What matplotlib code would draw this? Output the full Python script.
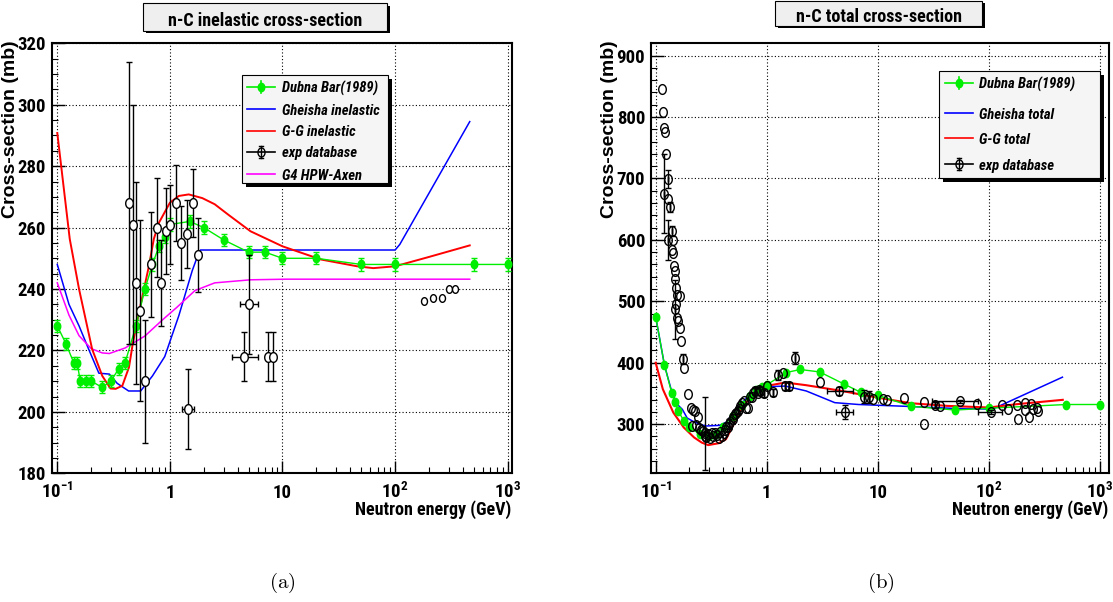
import numpy as np
import matplotlib
matplotlib.use('Agg')
import matplotlib.pyplot as plt
from matplotlib import font_manager as fm
from matplotlib.path import Path
from matplotlib.patches import Rectangle
from matplotlib.lines import Line2D
from matplotlib.transforms import Affine2D
from matplotlib.ticker import MultipleLocator, LogLocator, NullFormatter

# ---------------- data ----------------
XMAJ = [0.1, 1, 10, 100, 1000]
XLABELS = ['$10^{-1}$', '1', '10', '$10^{2}$', '$10^{3}$']

E_DUBNA = [0.1, 0.12, 0.14, 0.15, 0.16, 0.18, 0.2, 0.25, 0.3, 0.35, 0.4, 0.5, 0.6, 0.7,
           0.8, 0.9, 1.0, 1.5, 2.0, 3.0, 5.0, 7.0, 10.0, 20.0, 50.0, 100.0, 500.0, 1000.0]
SIG_IN_DUBNA = [228, 222, 216, 216, 210, 210, 210, 208, 210, 214, 216, 228, 240, 248,
                254, 257, 261, 262, 260, 256, 252, 252, 250, 250, 248, 248, 248, 248]
ERR_IN_DUBNA = [2, 2, 2, 2, 2, 2, 2, 2, 2, 2, 2, 2, 2, 2,
                2, 2, 2, 2, 2, 2, 2, 2, 2, 2, 2, 2, 2, 2]
SIG_TOT_DUBNA = [475, 396, 350, 336, 321, 305, 295, 284, 280, 284, 296, 314, 332, 346,
                 355, 361, 364, 384, 389, 385, 365, 352, 347, 329, 323, 326, 332, 332]
ERR_TOT_DUBNA = [3, 3, 3, 3, 3, 3, 3, 3, 3, 3, 3, 3, 3, 3,
                 3, 3, 3, 3, 3, 3, 3, 3, 3, 3, 3, 3, 3, 3]

# inelastic models
E_GH_IN = [0.1, 0.127, 0.156, 0.19, 0.234, 0.29, 0.34, 0.43, 0.55, 0.7, 0.9, 1.2, 1.58,
           1.78, 1.87, 100, 110, 460]
SIG_GH_IN = [248, 235, 228, 220.4, 212.6, 212.3, 209.3, 206.8, 206.8, 211.7, 218, 231.3,
             246, 251.2, 252.7, 252.7, 254.5, 294.5]
E_GG_IN = [0.1, 0.129, 0.156, 0.204, 0.251, 0.297, 0.33, 0.378, 0.433, 0.47, 0.548, 0.652,
           0.72, 0.8, 1.0, 1.2, 1.47, 1.94, 2.5, 3.3, 5.2, 10, 22, 46, 64, 100, 198, 460]
SIG_GG_IN = [290.8, 256.3, 240, 220.4, 211.7, 207.6, 207.5, 208.5, 214.5, 222.6, 234.6,
             247.6, 256.3, 261.6, 268.1, 270.3, 270.8, 269.6, 267.6, 264.2, 258.8, 253.9,
             249.6, 247.4, 246.8, 247.4, 250.4, 254.2]
E_HPW_IN = [0.1, 0.127, 0.156, 0.2, 0.25, 0.29, 0.4, 0.6, 0.85, 1.15, 1.67, 2.5, 5.2, 10.7, 460]
SIG_HPW_IN = [242, 231.5, 224.8, 220.6, 219.2, 219, 220.8, 224.7, 229.8, 234, 239.5, 242,
              243, 243.2, 243.2]

# inelastic experimental database
EXP_IN_E = [0.433, 0.47, 0.502, 0.542, 0.60, 0.68, 0.762, 0.838, 0.928, 1.0, 1.13, 1.26,
            1.42, 1.59, 1.78, 1.45, 4.55, 5.05, 7.36, 8.3]
EXP_IN = [268, 261, 242, 233, 210, 248, 260, 242, 259, 261, 268, 255, 258, 268, 251, 201,
          218, 235, 218, 218]
EXP_IN_ERR = [46, 39, 33, 29.5, 20, 17, 16, 14, 14, 13, 12.5, 12, 11, 11, 12, 13, 8, 16, 8, 8]
EXP_IN_XLO = [0, 0, 0, 0, 0, 0, 0, 0, 0, 0, 0, 0, 0, 0, 0, 0.18, 0.99, 0.85, 0, 0]
EXP_IN_XHI = [0, 0, 0, 0, 0, 0, 0, 0, 0, 0, 0, 0, 0, 0, 0, 0.19, 1.45, 0.95, 0, 0]
EXP_IN_HE_E = [180, 218, 260, 302, 343]
EXP_IN_HE = [236, 237, 237, 240, 240]

# total models
E_GH_TOT = [0.1, 0.12, 0.14, 0.155, 0.174, 0.192, 0.215, 0.257, 0.284, 0.375, 0.43, 0.53,
            0.71, 1.0, 1.47, 2.27, 4.1, 6.7, 20, 50, 108, 460]
SIG_GH_TOT = [475, 396, 352, 333, 324, 310, 305, 299, 297, 298, 303, 324, 349, 361, 362,
              354, 335, 332, 328.7, 325.5, 324.5, 376.5]
E_GG_TOT = [0.1, 0.116, 0.144, 0.179, 0.222, 0.26, 0.297, 0.37, 0.43, 0.495, 0.61, 0.82,
            1.0, 1.47, 2.27, 4.7, 9.8, 20, 41.7, 100, 178, 463]
SIG_GG_TOT = [400, 357, 319, 294.6, 278.3, 270, 265.9, 269, 275.6, 297.3, 329.8, 354,
              362.3, 367.8, 363.4, 354.2, 343.4, 334, 329.8, 327.1, 332.5, 339.6]

# total experimental database (points drawn without bars)
EXP_TOT_E = [0.113, 0.116, 0.119, 0.121, 0.124, 0.130, 0.143, 0.140, 0.142, 0.147, 0.149,
             0.149, 0.151, 0.155, 0.166, 0.152, 0.157, 0.160, 0.164, 0.169, 0.179, 0.196,
             0.210, 0.217, 0.225, 0.239, 0.214, 0.23, 0.248, 0.255, 0.266, 0.276, 0.285,
             0.297, 0.31, 0.32, 0.33, 0.344, 0.36, 0.37, 0.38, 0.392, 0.41, 0.42, 0.433,
             0.45, 0.47, 0.495, 0.5, 0.52, 0.53, 0.56, 0.58, 0.60, 0.62, 0.65, 0.68, 0.70,
             0.73, 0.75, 0.83, 0.85, 1.01, 1.40, 3.04, 9.1, 11.2, 12.1, 17.2, 25.8, 25.8,
             36.4, 79, 130, 150, 180, 184, 213, 210, 228, 242, 251, 273, 277]
EXP_TOT = [845, 808, 782, 775, 740, 666, 600, 584, 578, 557, 550, 536, 522, 511, 509, 495,
           473, 468, 456, 436, 392, 349, 327, 323, 322, 311, 297, 298, 293, 290, 289, 281,
           279, 284, 277, 285, 281, 286, 283, 277, 287, 281, 285, 290, 295, 296, 304, 308,
           312, 316, 318, 325, 330, 335, 338, 327, 327, 344, 345, 350, 351, 356, 362, 384,
           369, 341, 341, 339, 342, 336, 300, 330, 333, 331, 325, 332, 309, 334, 323, 311,
           333, 324, 327, 322]
# total experimental database (points with error bars)
EXP_TOT_EB_E = [0.128, 0.119, 0.134, 0.139, 0.129, 0.149, 0.175, 0.276, 0.46, 0.55, 0.78,
                0.87, 0.94, 1.14, 1.27, 1.45, 1.60, 1.78, 4.5, 5.05, 7.5, 8.3, 32.8, 54.5, 104]
EXP_TOT_EB = [699, 675, 654, 615, 600, 487, 406, 285, 300, 322, 354, 354, 351, 352, 380,
              362, 362, 408, 354, 320, 345, 344, 331, 337, 320]
EXP_TOT_EB_ERR = [15, 64, 8, 8, 32, 48, 8, 60, 8, 6, 6, 6, 6, 6, 8, 6, 6, 10, 6, 12, 10,
                  10, 5, 3, 3]
EXP_TOT_EB_XLO = [0, 0, 0, 0, 0, 0, 0, 0, 0, 0, 0, 0, 0, 0, 0, 0, 0, 0, 1.0, 0.85, 0, 0,
                  0, 23.8, 24]
EXP_TOT_EB_XHI = [0, 0, 0, 0, 0, 0, 0, 0, 0, 0, 0, 0, 0, 0, 0, 0, 0, 0, 1.5, 0.95, 0, 0,
                  0, 25.7, 26]

# ---------------- fonts ----------------
_avail = {f.name for f in fm.fontManager.ttflist}
NARROW_FAM = next((n for n in ['Liberation Sans Narrow', 'Nimbus Sans Narrow', 'Arial Narrow',
                               'Roboto Condensed', 'Archivo Narrow', 'Asap Condensed',
                               'Barlow Semi Condensed', 'Liberation Sans'] if n in _avail),
                  'DejaVu Sans')
WIDE_FAM = next((n for n in ['Liberation Sans', 'Arimo', 'DejaVu Sans'] if n in _avail),
                'DejaVu Sans')

plt.rcParams['font.family'] = [NARROW_FAM, 'DejaVu Sans']
plt.rcParams['font.weight'] = 'bold'
plt.rcParams['axes.labelweight'] = 'bold'
plt.rcParams['mathtext.fontset'] = 'custom'
plt.rcParams['mathtext.rm'] = NARROW_FAM + ':bold'
plt.rcParams['mathtext.bf'] = NARROW_FAM + ':bold'
plt.rcParams['mathtext.it'] = NARROW_FAM + ':bold:italic'
plt.rcParams['mathtext.sf'] = NARROW_FAM + ':bold'
plt.rcParams['mathtext.default'] = 'rm'

GREEN, BLUE, RED, MAGENTA = '#00ee00', '#0000ff', '#ff0000', '#ff00ff'

W, H = 1113, 602
fig = plt.figure(figsize=(W / 100, H / 100), dpi=100)
PX = Affine2D().scale(1.0 / W, -1.0 / H).translate(0, 1) + fig.transFigure


def ell_marker(ratio=0.78, n=48):
    t = np.linspace(0, 2 * np.pi, n)
    v = np.column_stack([ratio * np.cos(t), np.sin(t)])
    codes = [Path.MOVETO] + [Path.LINETO] * (n - 2) + [Path.CLOSEPOLY]
    return Path(v, codes)


ELL = ell_marker()


def setup(ax, xlim, ylim, ymajor, yminor, ylab_x):
    ax.set_xscale('log')
    ax.set_xlim(*xlim)
    ax.set_ylim(*ylim)
    ax.set_xticks(XMAJ, labels=XLABELS)
    ax.xaxis.set_minor_locator(LogLocator(base=10, subs=np.arange(2, 10), numticks=30))
    ax.xaxis.set_minor_formatter(NullFormatter())
    ax.yaxis.set_major_locator(MultipleLocator(ymajor))
    ax.yaxis.set_minor_locator(MultipleLocator(yminor))
    ax.tick_params(which='both', direction='in', top=False, right=False, color='k')
    ax.tick_params(which='major', length=9, width=1.0, labelsize=13.5)
    ax.tick_params(axis='y', which='major', pad=4)
    ax.tick_params(axis='x', which='major', pad=18)
    ax.tick_params(which='minor', length=4.5, width=0.8)
    for lbl in ax.get_xticklabels():
        lbl.set_verticalalignment('baseline')
    for s in ax.spines.values():
        s.set_linewidth(1.5)
    ax.grid(True, which='major', color='k', linestyle=(0, (1, 2)), linewidth=0.8)
    ax.set_axisbelow(True)
    ax.set_xlabel('Neutron energy (GeV)', fontsize=13, fontweight='bold')
    ax.xaxis.set_label_coords(1.0, -(515 - 473.3) / 430)
    ax.xaxis.label.set(ha='right', va='baseline')
    ax.set_ylabel('Cross-section (mb)', fontsize=14, fontfamily=[WIDE_FAM, 'DejaVu Sans'],
                  fontweight='bold')
    ax.yaxis.set_label_coords(ylab_x, 1.007)
    ax.yaxis.label.set(ha='right', va='center', rotation_mode='anchor')


def title_box(x0, y0, x1, y1, text, tx, ty, sh=2.5):
    fig.add_artist(Rectangle((x0 + sh, y0 + sh), x1 - x0, y1 - y0, transform=PX,
                             fc='k', ec='k', lw=0, zorder=20))
    fig.add_artist(Rectangle((x0, y0), x1 - x0, y1 - y0, transform=PX,
                             fc='#efefef', ec='k', lw=0.8, zorder=21))
    fig.text(tx, ty, text, transform=PX, ha='center', va='baseline', fontsize=13,
             fontweight='bold', zorder=22)


def legend_box(box, rows, hx0, hx1, tx, entries, sh=4):
    x0, y0, x1, y1 = box
    fig.add_artist(Rectangle((x0 + sh, y0 + sh), x1 - x0, y1 - y0, transform=PX,
                             fc='k', ec='k', lw=0, zorder=20))
    fig.add_artist(Rectangle((x0, y0), x1 - x0, y1 - y0, transform=PX,
                             fc='#f5f5f5', ec='k', lw=0.8, zorder=21))
    xc = 0.5 * (hx0 + hx1)
    for y, (label, kind, color) in zip(rows, entries):
        fig.add_artist(Line2D([hx0, hx1], [y, y], transform=PX, color=color, lw=1.2, zorder=22))
        if kind == 'dubna':
            fig.add_artist(Line2D([xc, xc], [y - 6, y + 6], transform=PX, color=color,
                                  lw=1.2, zorder=22))
            fig.add_artist(Line2D([xc], [y], transform=PX, marker=ELL, ms=6, color=color,
                                  mfc=color, mec=color, zorder=23))
        elif kind == 'exp':
            fig.add_artist(Line2D([xc, xc], [y - 6, y + 6], transform=PX, color='k',
                                  lw=1.0, zorder=22))
            fig.add_artist(Line2D([xc - 2, xc + 2], [y - 6, y - 6], transform=PX, color='k',
                                  lw=1.0, zorder=22))
            fig.add_artist(Line2D([xc - 2, xc + 2], [y + 6, y + 6], transform=PX, color='k',
                                  lw=1.0, zorder=22))
            fig.add_artist(Line2D([xc], [y], transform=PX, marker=ELL, ms=6.5, color='k',
                                  mfc='none', mec='k', mew=1.0, zorder=23))
        fig.text(tx, y, label, transform=PX, ha='left', va='center_baseline', fontsize=10.5,
                 fontstyle='italic', fontweight='bold', zorder=23)


# ---------------- left panel: inelastic ----------------
axL = fig.add_axes([51.7 / W, 1 - 473.3 / H, 460 / W, 430 / H])
setup(axL, (0.0892, 1085), (180, 320), 20, 5, -0.090)

axL.plot(E_GH_IN, SIG_GH_IN, color=BLUE, lw=1.1, zorder=3)
axL.plot(E_HPW_IN, SIG_HPW_IN, color=MAGENTA, lw=1.1, zorder=3)
axL.plot(E_GG_IN, SIG_GG_IN, color=RED, lw=1.4, zorder=3)
axL.errorbar(E_DUBNA, SIG_IN_DUBNA, yerr=ERR_IN_DUBNA, color=GREEN, lw=1.0, marker=ELL,
             ms=6, mfc=GREEN, mec=GREEN, capsize=2.5, capthick=1.0, elinewidth=1.0, zorder=4)
axL.errorbar(EXP_IN_E, EXP_IN, yerr=EXP_IN_ERR, xerr=[EXP_IN_XLO, EXP_IN_XHI], fmt='none',
             ecolor='k', elinewidth=1.0, capsize=2.5, capthick=1.0, zorder=5)
axL.plot(EXP_IN_E, EXP_IN, ls='none', marker=ELL, ms=7, mfc='white', mec='k', mew=1.0,
         zorder=6)
axL.plot(EXP_IN_HE_E, EXP_IN_HE, ls='none', marker=ELL, ms=5.5, mfc='white', mec='k',
         mew=1.0, zorder=6)

# ---------------- right panel: total ----------------
axR = fig.add_axes([650.7 / W, 1 - 473.3 / H, 458 / W, 430 / H])
setup(axR, (0.0902, 1200), (220, 920), 100, 20, -0.091)

axR.plot(E_GH_TOT, SIG_GH_TOT, color=BLUE, lw=1.1, zorder=3)
axR.plot(E_GG_TOT, SIG_GG_TOT, color=RED, lw=1.5, zorder=3)
axR.errorbar(E_DUBNA, SIG_TOT_DUBNA, yerr=ERR_TOT_DUBNA, color=GREEN, lw=1.0, marker=ELL,
             ms=6, mfc=GREEN, mec=GREEN, capsize=0, elinewidth=1.0, zorder=4)
axR.errorbar(EXP_TOT_EB_E, EXP_TOT_EB, yerr=EXP_TOT_EB_ERR,
             xerr=[EXP_TOT_EB_XLO, EXP_TOT_EB_XHI], fmt='none', ecolor='k', elinewidth=1.0,
             capsize=2.5, capthick=1.0, zorder=5)
axR.plot(EXP_TOT_E, EXP_TOT, ls='none', marker=ELL, ms=7, mfc='none', mec='k', mew=1.0,
         zorder=6)
axR.plot(EXP_TOT_EB_E, EXP_TOT_EB, ls='none', marker=ELL, ms=7, mfc='none', mec='k',
         mew=1.0, zorder=6)

# ---------------- titles, legends, captions ----------------
title_box(143, 3.3, 387, 30.7, 'n-C inelastic cross-section', 265, 26)
title_box(775, 0.7, 982, 25.5, 'n-C total cross-section', 878.5, 22.5)

legend_box((241.7, 75, 388.3, 183.3), [86.7, 109.3, 131, 151.7, 174], 246.7, 275, 281.7,
           [('Dubna Bar(1989)', 'dubna', GREEN),
            ('Gheisha inelastic', 'line', BLUE),
            ('G-G inelastic', 'line', RED),
            ('exp database', 'exp', 'k'),
            ('G4 HPW-Axen', 'line', MAGENTA)])
legend_box((938.5, 70.7, 1099.7, 178.3), [83.3, 113.3, 138.3, 164.3], 944.5, 972.7, 978.7,
           [('Dubna Bar(1989)', 'dubna', GREEN),
            ('Gheisha total', 'line', BLUE),
            ('G-G total', 'line', RED),
            ('exp database', 'exp', 'k')])

fig.text(282, 583, r'$(\mathrm{a})$', transform=PX, ha='center', va='center', fontsize=15,
         math_fontfamily='cm')
fig.text(881, 583, r'$(\mathrm{b})$', transform=PX, ha='center', va='center', fontsize=15,
         math_fontfamily='cm')

fig.savefig('out.png', dpi=100, facecolor='white')
